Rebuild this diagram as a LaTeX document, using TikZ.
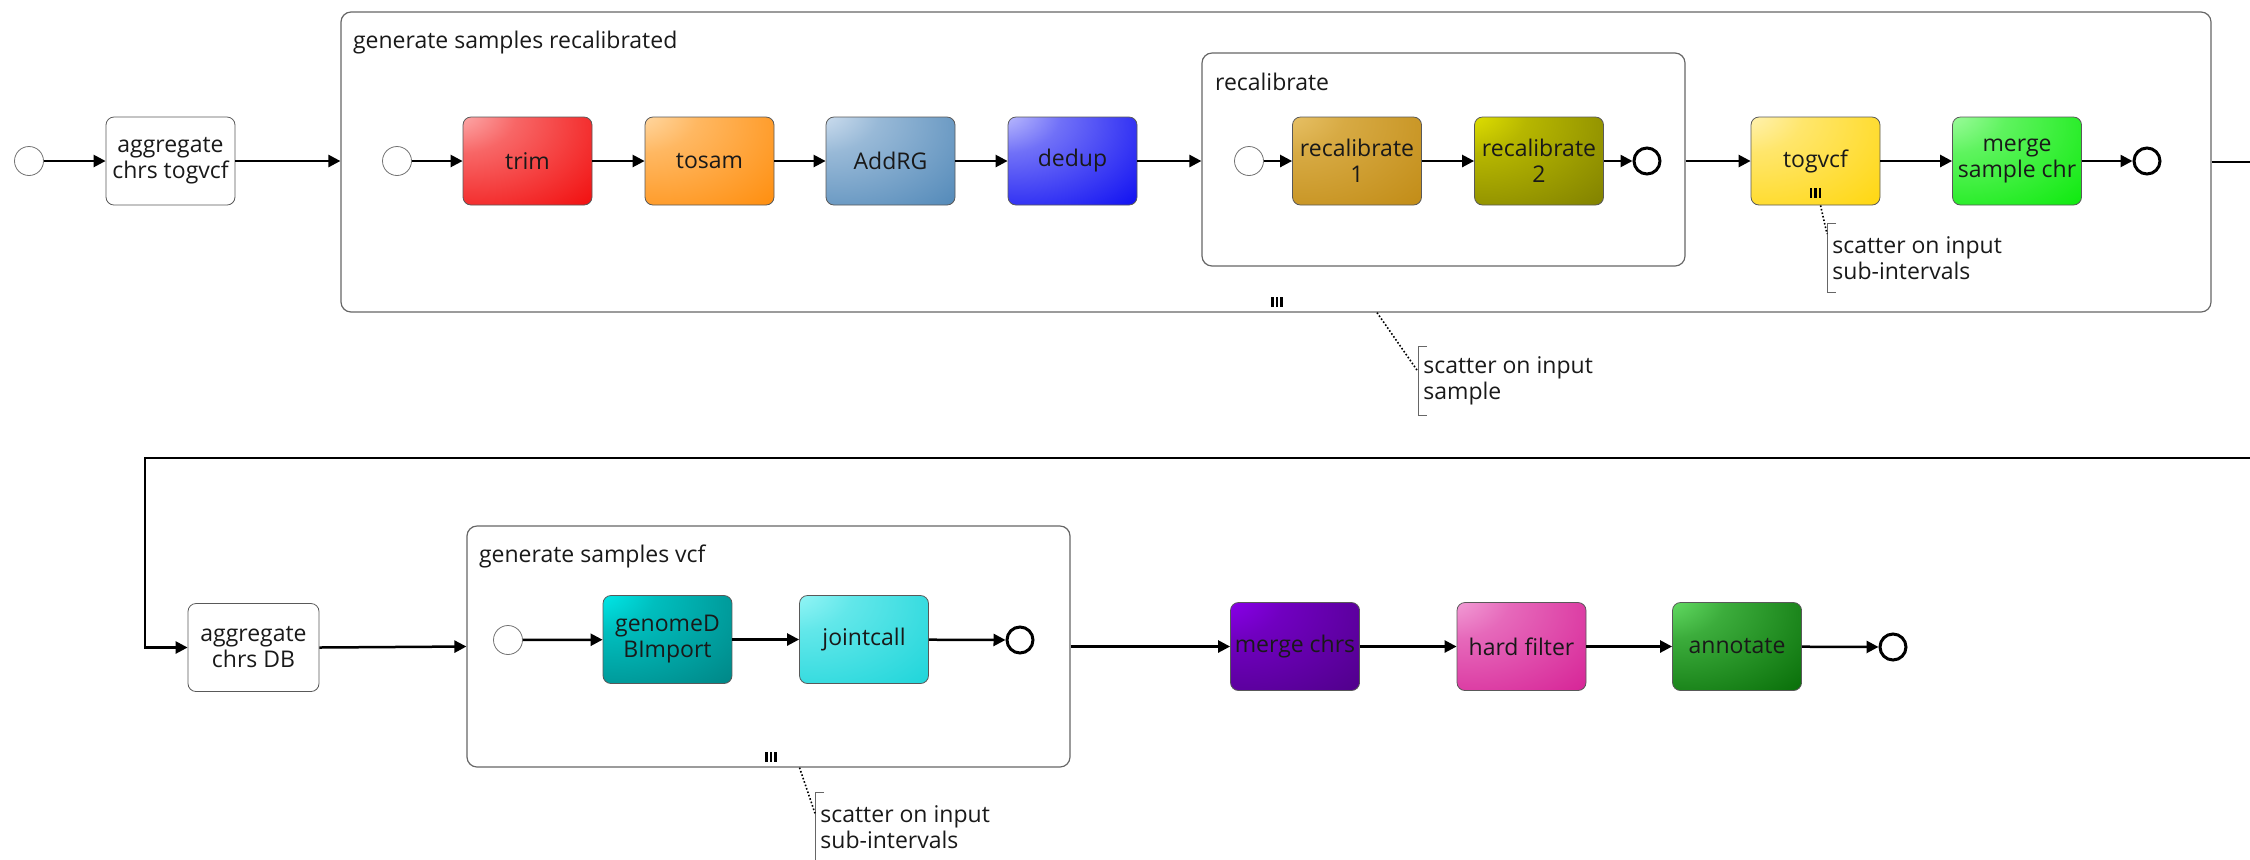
\documentclass[tikz,border=0pt]{standalone}
\usepackage{fontspec}
\setmainfont{Open Sans}
\usetikzlibrary{arrows.meta,calc,fit}

\definecolor{trimA}{RGB}{255,205,205}  \definecolor{trimB}{RGB}{240,0,0}
\definecolor{samA}{RGB}{255,232,195}   \definecolor{samB}{RGB}{255,135,0}
\definecolor{rgA}{RGB}{232,240,250}    \definecolor{rgB}{RGB}{72,130,180}
\definecolor{dupA}{RGB}{225,225,255}   \definecolor{dupB}{RGB}{0,0,240}
\definecolor{rcoA}{RGB}{240,205,120}   \definecolor{rcoB}{RGB}{190,135,15}
\definecolor{rctA}{RGB}{245,245,0}     \definecolor{rctB}{RGB}{120,120,0}
\definecolor{gvA}{RGB}{255,248,215}    \definecolor{gvB}{RGB}{255,212,0}
\definecolor{msA}{RGB}{190,255,190}    \definecolor{msB}{RGB}{0,232,0}
\definecolor{dbA}{RGB}{0,255,255}      \definecolor{dbB}{RGB}{0,125,125}
\definecolor{jcA}{RGB}{175,252,252}    \definecolor{jcB}{RGB}{20,210,215}
\definecolor{mcA}{RGB}{150,0,255}      \definecolor{mcB}{RGB}{75,0,130}
\definecolor{hfA}{RGB}{248,185,228}    \definecolor{hfB}{RGB}{212,25,145}
\definecolor{anA}{RGB}{120,245,120}    \definecolor{anB}{RGB}{0,100,0}

\colorlet{glowA}{white} \colorlet{glowB}{black}
\pgfdeclareradialshading[glowA,glowB]{glow}{\pgfpoint{-34bp}{34bp}}{%
  color(0bp)=(glowA); color(22bp)=(glowA!50!glowB); color(62bp)=(glowB); color(100bp)=(glowB)}

\begin{document}
\begin{tikzpicture}[x=0.5pt, y=-0.5pt, >={Triangle[length=6pt,width=6pt]},
  every node/.style={font=\fontsize{11.5}{13}\selectfont, text=black!90},
  box/.style={draw=black!65, rounded corners=4pt, minimum width=64.5pt, minimum height=44pt, align=center, inner sep=1pt},
  task/.style 2 args={box, /utils/exec={\colorlet{glowA}{#1}\colorlet{glowB}{#2}}, shading=glow},
  plain/.style={box, fill=white},
  group/.style={draw=black!60, line width=0.6pt, rounded corners=5pt, inner sep=0pt},
  startev/.style={circle, draw=black!55, fill=white, minimum size=14.5pt, inner sep=0pt},
  endev/.style={circle, draw=black, line width=1.5pt, fill=white, minimum size=13pt, inner sep=0pt},
  flow/.style={->, line width=1.25pt},
  note/.style={align=left, anchor=west, minimum height=34pt, inner xsep=2.5pt, inner ysep=0pt},
  link/.style={densely dotted, line width=0.8pt},
  pics/multi/.style={code={
    \draw[line width=1.2pt] (-4.5,-5) -- (-4.5,5) (0,-5) -- (0,5) (4.5,-5) -- (4.5,5);}}]
  \useasboundingbox (0,0) rectangle (2250,859);

  % first row
  \node[group, fit={(341,12) (2211,312)}] (gsr) {};
  \node[anchor=base west] (gsrt) at (346,48) {generate samples recalibrated};
  \node[group, fit={(1202,53) (1685,266)}] (rec) {};
  \node[anchor=base west] (rect) at (1208,90) {recalibrate};
  \node[startev] (s0) at (29,161) {};
  \node[plain] (agg1) at (170.5,161) {aggregate\\chrs togvcf};
  \node[startev] (s1) at (397,161) {};
  \node[task={trimA}{trimB}] (trim) at (527.5,161) {trim};
  \node[task={samA}{samB}] (tosam) at (709.5,161) {tosam};
  \node[task={rgA}{rgB}] (addrg) at (890.5,161) {AddRG};
  \node[task={dupA}{dupB}] (dedup) at (1072.5,161) {dedup};
  \node[startev] (s2) at (1249,161) {};
  \node[task={rcoA}{rcoB}] (rc1) at (1357,161) {recalibrate\\1};
  \node[task={rctA}{rctB}] (rc2) at (1539,161) {recalibrate\\2};
  \node[endev] (e2) at (1647,161) {};
  \node[task={gvA}{gvB}] (tv) at (1815.5,161) {togvcf};
  \node[task={msA}{msB}] (msc) at (2017,161) {merge\\sample chr};
  \node[endev] (e3) at (2147,161) {};
  \pic (tvm) at (1815.5,193) {multi};
  \pic (gsrm) at (1277,302) {multi};

  \draw[flow] (s0) -- (agg1);
  \draw[flow] (agg1.east) -- (agg1.east -| gsr.west);
  \draw[flow] (s1) -- (trim);
  \draw[flow] (trim) -- (tosam);
  \draw[flow] (tosam) -- (addrg);
  \draw[flow] (addrg) -- (dedup);
  \draw[flow] (dedup.east) -- (dedup.east -| rec.west);
  \draw[flow] (s2) -- (rc1);
  \draw[flow] (rc1) -- (rc2);
  \draw[flow] (rc2) -- (e2);
  \draw[flow] (rc2.east -| rec.east) -- (tv);
  \draw[flow] (tv) -- (msc);
  \draw[flow] (msc) -- (e3);

  % notes
  \node[note] (n1) at (1827,258) {scatter on input\\sub-intervals};
  \draw[black!60] ($(n1.north west)+(9,0)$) -- (n1.north west) -- (n1.south west) -- ++(9,0);
  \draw[link] ($(tv.south)+(5,0)$) -- ($(n1.north west)!0.15!(n1.south west)$);
  \node[note] (n2) at (1418,380.5) {scatter on input\\sample};
  \draw[black!60] ($(n2.north west)+(9,0)$) -- (n2.north west) -- (n2.south west) -- ++(9,0);
  \draw[link] ($(gsr.south)+(101,0)$) -- ($(n2.north west)!0.37!(n2.south west)$);

  % second row
  \node[plain, minimum width=65.5pt] (agg2) at (253.5,647.5) {aggregate\\chrs DB};
  \node[group, fit={(467,526) (1070,767)}] (gsv) {};
  \node[anchor=base west] (gsvt) at (472,562) {generate samples vcf};
  \node[startev] (s3) at (508,640) {};
  \node[task={dbA}{dbB}] (gdb) at (667.5,639.5) {genomeD\\BImport};
  \node[task={jcA}{jcB}] (jc) at (864,639.5) {jointcall};
  \node[endev] (e4) at (1020,640) {};
  \pic (gsvm) at (771,757) {multi};
  \node[task={mcA}{mcB}] (mc) at (1295,646.5) {merge chrs};
  \node[task={hfA}{hfB}] (hf) at (1521.5,646.5) {hard filter};
  \node[task={anA}{anB}] (an) at (1737,646.5) {annotate};
  \node[endev] (e5) at (1893,647) {};

  \draw[flow] (gsr.east) -- (2290,162) -- (2290,458) -- (145,458) -- (145,647.5) -- (agg2.west);
  \draw[flow] (agg2.east) -- (gsv.west);
  \draw[flow] (s3) -- (gdb);
  \draw[flow] (gdb) -- (jc);
  \draw[flow] (jc) -- (e4);
  \draw[flow] (gsv.east) -- (mc.west);
  \draw[flow] (mc) -- (hf);
  \draw[flow] (hf) -- (an);
  \draw[flow] (an) -- (e5);

  \node[note] (n3) at (815,827) {scatter on input\\sub-intervals};
  \draw[black!60] ($(n3.north west)+(9,0)$) -- (n3.north west) -- (n3.south west) -- ++(9,0);
  \draw[link] ($(gsv.south)+(31,0)$) -- ($(n3.north west)!0.3!(n3.south west)$);
\end{tikzpicture}
\end{document}
